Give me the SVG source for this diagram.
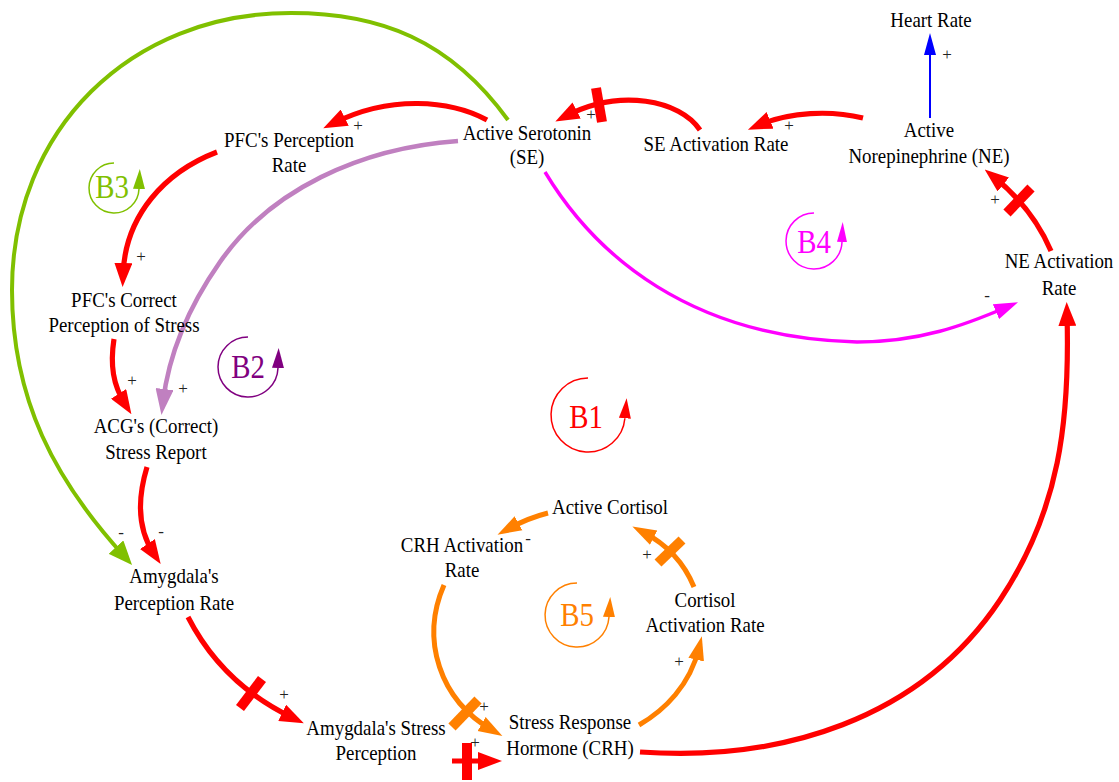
<svg xmlns="http://www.w3.org/2000/svg" width="1119" height="782" viewBox="0 0 1119 782">
<style>
  .n { font-family: "Liberation Serif", "DejaVu Serif", serif; font-size: 21px; fill: #000; text-anchor: middle; }
  .s { font-family: "Liberation Serif", "DejaVu Serif", serif; font-size: 17px; fill: #222; text-anchor: middle; }
  .lp { font-family: "Liberation Serif", "DejaVu Serif", serif; font-size: 34px; text-anchor: middle; }
  .c { fill: none; stroke-linecap: butt; }
  .red { stroke: #ff0000; stroke-width: 5.2; }
  .org { stroke: #ff8000; stroke-width: 5; }
  .grn { stroke: #80c000; stroke-width: 4; }
  .pur { stroke: #c080c0; stroke-width: 4.6; }
  .mag { stroke: #ff00ff; stroke-width: 3.4; }
  .blu { stroke: #0000ff; stroke-width: 2; }
  .dly { stroke-width: 10; }
  .ring { fill: none; stroke-width: 1.5; }
</style>
<defs>
  <marker id="ar-red" markerUnits="userSpaceOnUse" viewBox="0 0 24 18" markerWidth="24" markerHeight="18" refX="12" refY="9" orient="auto"><path d="M0,0 L24,9 L0,18 z" fill="#ff0000"/></marker>
  <marker id="ar-org" markerUnits="userSpaceOnUse" viewBox="0 0 24 18" markerWidth="24" markerHeight="18" refX="12" refY="9" orient="auto"><path d="M0,1 L24,9 L0,17 z" fill="#ff8000"/></marker>
  <marker id="ar-grn" markerUnits="userSpaceOnUse" viewBox="0 0 24 20" markerWidth="24" markerHeight="20" refX="12" refY="10" orient="auto"><path d="M0,0 L24,10 L0,20 z" fill="#80c000"/></marker>
  <marker id="ar-pur" markerUnits="userSpaceOnUse" viewBox="0 0 26 18" markerWidth="26" markerHeight="18" refX="13" refY="9" orient="auto"><path d="M0,0 L26,9 L0,18 z" fill="#c080c0"/></marker>
  <marker id="ar-mag" markerUnits="userSpaceOnUse" viewBox="0 0 24 16" markerWidth="24" markerHeight="16" refX="12" refY="8" orient="auto"><path d="M0,0 L24,8 L0,16 z" fill="#ff00ff"/></marker>
  <marker id="ar-blu" markerUnits="userSpaceOnUse" viewBox="0 0 22 12" markerWidth="22" markerHeight="12" refX="11" refY="6" orient="auto"><path d="M0,0 L22,6 L0,12 z" fill="#0000ff"/></marker>
  <marker id="lp-red" markerUnits="userSpaceOnUse" viewBox="0 -6 20 12" markerWidth="20" markerHeight="12" refX="0" refY="0" orient="auto"><path d="M0,-6 L20,0 L0,6 z" fill="#ff0000"/></marker>
  <marker id="lp-pur" markerUnits="userSpaceOnUse" viewBox="0 -6 20 12" markerWidth="20" markerHeight="12" refX="0" refY="0" orient="auto"><path d="M0,-6 L20,0 L0,6 z" fill="#800080"/></marker>
  <marker id="lp-grn" markerUnits="userSpaceOnUse" viewBox="0 -6 20 12" markerWidth="20" markerHeight="12" refX="0" refY="0" orient="auto"><path d="M0,-6 L20,0 L0,6 z" fill="#80c000"/></marker>
  <marker id="lp-mag" markerUnits="userSpaceOnUse" viewBox="0 -6 20 12" markerWidth="20" markerHeight="12" refX="0" refY="0" orient="auto"><path d="M0,-5 L20,0 L0,5 z" fill="#ff00ff"/></marker>
  <marker id="lp-org" markerUnits="userSpaceOnUse" viewBox="0 -6 20 12" markerWidth="20" markerHeight="12" refX="0" refY="0" orient="auto"><path d="M0,-6 L20,0 L0,6 z" fill="#ff8000"/></marker>
</defs>
<rect width="1119" height="782" fill="#ffffff"/>

<g id="connectors">
  <path class="c grn" d="M508,120 C450,40 380,13 291,13 C130,13 12,130 12,290 C12,400 55,480 124,556" marker-end="url(#ar-grn)"/>
  <path class="c red" d="M487,120 C450,100 390,95 334,123" marker-end="url(#ar-red)"/>
  <path class="c pur" d="M458,141 C360,148 270,190 220,262 C185,312 168,360 163,402" marker-end="url(#ar-pur)"/>
  <path class="c red" d="M217,152 C165,172 125,215 123,275" marker-end="url(#ar-red)"/>
  <path class="c red" d="M114,339 C110,365 113,385 125,404" marker-end="url(#ar-red)"/>
  <path class="c red" d="M147,467 C137,500 138,530 154,554" marker-end="url(#ar-red)"/>
  <path class="c red" d="M188,617 C210,660 245,695 293,718" marker-end="url(#ar-red)"/>
  <line class="c red dly" x1="240" y1="708" x2="262" y2="679"/>
  <path class="c red" d="M452,761 L490,761" marker-end="url(#ar-red)"/>
  <line class="c red dly" x1="467" y1="743" x2="467" y2="780"/>
  <path class="c red" d="M640,752 C780,762 920,720 1000,600 C1060,510 1070,420 1067,314" marker-end="url(#ar-red)"/>
  <path class="c red" d="M1051,251 C1040,225 1020,198 994,177" marker-end="url(#ar-red)"/>
  <line class="c red dly" x1="1007" y1="213" x2="1031" y2="188"/>
  <path class="c red" d="M863,118 C830,110 790,112 759,125" marker-end="url(#ar-red)"/>
  <path class="c red" d="M700,130 C680,100 620,88 566,116" marker-end="url(#ar-red)"/>
  <line class="c red dly" x1="596" y1="88" x2="602" y2="122"/>
  <path class="c blu" d="M930,118 L930,44" marker-end="url(#ar-blu)"/>
  <path class="c mag" d="M545,172 C595,255 690,338 857,342 C920,342 965,325 1007,307" marker-end="url(#ar-mag)"/>
  <path class="c org" d="M548,513 Q528,518 508,529" marker-end="url(#ar-org)"/>
  <path class="c org" d="M444,585 C420,640 440,700 492,730" marker-end="url(#ar-org)"/>
  <line class="c org dly" x1="452" y1="727" x2="478" y2="700"/>
  <path class="c org" d="M639,725 C665,710 690,685 699,648" marker-end="url(#ar-org)"/>
  <path class="c org" d="M694,587 C685,565 668,545 643,532" marker-end="url(#ar-org)"/>
  <line class="c org dly" x1="658" y1="563" x2="682" y2="540"/>

  <text class="s" x="358" y="131">+</text>
  <text class="s" x="591" y="120">+</text>
  <text class="s" x="789" y="131">+</text>
  <text class="s" x="947" y="60">+</text>
  <text class="s" x="995" y="205">+</text>
  <text class="s" x="987" y="301">-</text>
  <text class="s" x="141" y="262">+</text>
  <text class="s" x="132" y="386">+</text>
  <text class="s" x="183" y="394">+</text>
  <text class="s" x="121" y="538">-</text>
  <text class="s" x="161" y="537">-</text>
  <text class="s" x="284" y="700">+</text>
  <text class="s" x="475" y="748">+</text>
  <text class="s" x="484" y="712">+</text>
  <text class="s" x="528" y="544">-</text>
  <text class="s" x="679" y="667">+</text>
  <text class="s" x="647" y="560">+</text>
</g>

<g id="n-heart-rate"><text class="n" transform="translate(931,27) scale(0.9,1)">Heart Rate</text></g>
<g id="n-active-ne"><text class="n" transform="translate(929,137) scale(0.9,1)"><tspan x="0" y="0">Active</tspan><tspan x="0" y="26">Norepinephrine (NE)</tspan></text></g>
<g id="n-se-activation-rate"><text class="n" transform="translate(716,151) scale(0.9,1)">SE Activation Rate</text></g>
<g id="n-active-serotonin"><text class="n" transform="translate(527,140) scale(0.9,1)"><tspan x="0" y="0">Active Serotonin</tspan><tspan x="0" y="24">(SE)</tspan></text></g>
<g id="n-pfc-perception-rate"><text class="n" transform="translate(289,147) scale(0.9,1)"><tspan x="0" y="0">PFC's Perception</tspan><tspan x="0" y="25">Rate</tspan></text></g>
<g id="n-pfc-correct"><text class="n" transform="translate(124,307) scale(0.9,1)"><tspan x="0" y="0">PFC's Correct</tspan><tspan x="0" y="25">Perception of Stress</tspan></text></g>
<g id="n-acg-report"><text class="n" transform="translate(156,433) scale(0.9,1)"><tspan x="0" y="0">ACG's (Correct)</tspan><tspan x="0" y="26">Stress Report</tspan></text></g>
<g id="n-amygdala-perception-rate"><text class="n" transform="translate(174,583) scale(0.9,1)"><tspan x="0" y="0">Amygdala's</tspan><tspan x="0" y="27">Perception Rate</tspan></text></g>
<g id="n-amygdala-stress-perception"><text class="n" transform="translate(376,735) scale(0.9,1)"><tspan x="0" y="0">Amygdala's Stress</tspan><tspan x="0" y="25">Perception</tspan></text></g>
<g id="n-stress-response-hormone"><text class="n" transform="translate(570,729) scale(0.9,1)"><tspan x="0" y="0">Stress Response</tspan><tspan x="0" y="26">Hormone (CRH)</tspan></text></g>
<g id="n-crh-activation-rate"><text class="n" transform="translate(462,552) scale(0.9,1)"><tspan x="0" y="0">CRH Activation</tspan><tspan x="0" y="25">Rate</tspan></text></g>
<g id="n-active-cortisol"><text class="n" transform="translate(610,514) scale(0.9,1)">Active Cortisol</text></g>
<g id="n-cortisol-activation-rate"><text class="n" transform="translate(705,607) scale(0.9,1)"><tspan x="0" y="0">Cortisol</tspan><tspan x="0" y="25">Activation Rate</tspan></text></g>
<g id="n-ne-activation-rate"><text class="n" transform="translate(1059,268) scale(0.9,1)"><tspan x="0" y="0">NE Activation</tspan><tspan x="0" y="27">Rate</tspan></text></g>

<g id="loop-b1">
  <path class="ring" stroke="#ff0000" d="M588,378 A37,37 0 1,0 624.9,418.2" marker-end="url(#lp-red)"/>
  <text class="lp" fill="#ff0000" transform="translate(586,428) scale(0.85,1)">B1</text>
</g>
<g id="loop-b2">
  <path class="ring" stroke="#800080" d="M248,337 A30,30 0 1,0 278,368" marker-end="url(#lp-pur)"/>
  <text class="lp" fill="#800080" transform="translate(248,378) scale(0.85,1)">B2</text>
</g>
<g id="loop-b3">
  <path class="ring" stroke="#80c000" d="M114,163 A25,25 0 1,0 139,189" marker-end="url(#lp-grn)"/>
  <text class="lp" fill="#80c000" transform="translate(112,198) scale(0.85,1)">B3</text>
</g>
<g id="loop-b4">
  <path class="ring" stroke="#ff00ff" d="M814,213 A28,28 0 1,0 842,242" marker-end="url(#lp-mag)"/>
  <text class="lp" fill="#ff00ff" transform="translate(814,253) scale(0.85,1)">B4</text>
</g>
<g id="loop-b5">
  <path class="ring" stroke="#ff8000" d="M577,583 A32,32 0 1,0 609,617" marker-end="url(#lp-org)"/>
  <text class="lp" fill="#ff8000" transform="translate(577,626) scale(0.85,1)">B5</text>
</g>
</svg>
